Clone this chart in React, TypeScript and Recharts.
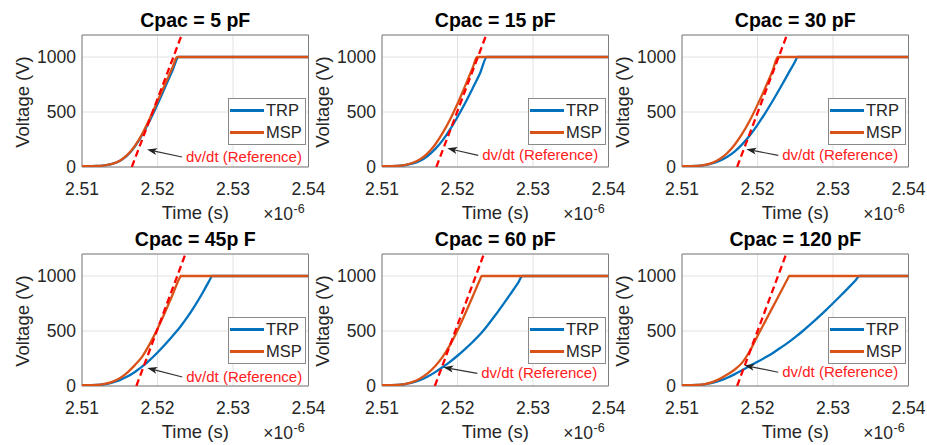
import { LineChart, Line, XAxis, YAxis, CartesianGrid, ReferenceArea, ReferenceLine, Legend } from 'recharts'

const timeTicks = [2.51, 2.52, 2.53, 2.54]
const voltTicks = [0, 500, 1000]
const titles = ['Cpac = 5 pF', 'Cpac = 15 pF', 'Cpac = 30 pF', 'Cpac = 45p F', 'Cpac = 60 pF', 'Cpac = 120 pF']
const seriesOrder = ['TRP', 'MSP']

// [time (x1e-6 s), voltage (V)]
const trp5 = [[2.51, 8], [2.512, 9], [2.513, 15], [2.514, 28], [2.515, 55], [2.516, 105], [2.517, 185], [2.518, 295], [2.519, 425], [2.52, 570], [2.521, 725], [2.522, 880], [2.5228, 1000], [2.54, 1000]]
const msp5 = [[2.51, 8], [2.512, 9], [2.513, 15], [2.514, 29], [2.515, 57], [2.516, 110], [2.517, 192], [2.518, 305], [2.519, 445], [2.52, 598], [2.521, 752], [2.522, 908], [2.5226, 1000], [2.54, 1000]]
const trp15 = [[2.51, 8], [2.512, 9], [2.513, 16], [2.514, 30], [2.515, 55], [2.516, 98], [2.517, 160], [2.518, 240], [2.519, 340], [2.52, 455], [2.521, 580], [2.522, 715], [2.523, 855], [2.5239, 1000], [2.54, 1000]]
const msp15 = [[2.51, 8], [2.512, 10], [2.513, 18], [2.514, 36], [2.515, 68], [2.516, 122], [2.517, 200], [2.518, 305], [2.519, 430], [2.52, 575], [2.521, 735], [2.522, 900], [2.5226, 1000], [2.54, 1000]]
const trp30 = [[2.51, 8], [2.512, 9], [2.513, 16], [2.514, 32], [2.515, 57], [2.516, 93], [2.517, 143], [2.518, 208], [2.519, 288], [2.52, 383], [2.521, 488], [2.522, 600], [2.523, 718], [2.524, 840], [2.525, 962], [2.5253, 1000], [2.54, 1000]]
const msp30 = [[2.51, 8], [2.512, 10], [2.513, 19], [2.514, 38], [2.515, 72], [2.516, 127], [2.517, 205], [2.518, 305], [2.519, 425], [2.52, 565], [2.521, 715], [2.522, 875], [2.5227, 1000], [2.54, 1000]]
const trp45 = [[2.51, 8], [2.512, 9], [2.513, 16], [2.514, 31], [2.515, 54], [2.516, 86], [2.517, 128], [2.518, 178], [2.519, 238], [2.52, 305], [2.521, 378], [2.522, 455], [2.523, 537], [2.524, 630], [2.525, 735], [2.526, 850], [2.527, 975], [2.5272, 1000], [2.54, 1000]]
const msp45 = [[2.51, 8], [2.512, 10], [2.513, 19], [2.514, 38], [2.515, 70], [2.516, 122], [2.517, 190], [2.518, 270], [2.519, 385], [2.52, 520], [2.521, 670], [2.522, 830], [2.523, 990], [2.5231, 1000], [2.54, 1000]]
const trp60 = [[2.51, 8], [2.512, 9], [2.513, 16], [2.514, 30], [2.515, 52], [2.516, 84], [2.517, 124], [2.518, 170], [2.519, 220], [2.52, 275], [2.521, 335], [2.522, 400], [2.523, 470], [2.524, 553], [2.525, 643], [2.526, 738], [2.527, 835], [2.528, 935], [2.5286, 1000], [2.54, 1000]]
const msp60 = [[2.51, 8], [2.512, 10], [2.513, 18], [2.514, 36], [2.515, 66], [2.516, 112], [2.517, 177], [2.518, 262], [2.519, 372], [2.52, 505], [2.521, 655], [2.522, 812], [2.523, 970], [2.5232, 1000], [2.54, 1000]]
const trp120 = [[2.51, 8], [2.512, 9], [2.513, 15], [2.514, 28], [2.515, 48], [2.516, 75], [2.517, 108], [2.518, 145], [2.519, 183], [2.52, 220], [2.521, 258], [2.522, 298], [2.523, 345], [2.524, 392], [2.525, 444], [2.526, 500], [2.527, 560], [2.528, 622], [2.529, 686], [2.53, 752], [2.531, 820], [2.532, 890], [2.533, 962], [2.5335, 1000], [2.54, 1000]]
const msp120 = [[2.51, 8], [2.512, 10], [2.513, 18], [2.514, 36], [2.515, 65], [2.516, 105], [2.517, 150], [2.518, 215], [2.519, 320], [2.52, 455], [2.521, 585], [2.522, 715], [2.523, 845], [2.524, 975], [2.5242, 1000], [2.54, 1000]]

// dv/dt reference line: start time at 0 V and time at 1200 V
const refStart = [2.5166, 2.5172, 2.5173, 2.5172, 2.517, 2.5173]
const refEnd = [2.5232, 2.5238, 2.5239, 2.5237, 2.5235, 2.5238]

// annotation arrow: tail (at text) and tip
const arrowTail = [[2.52325, 91], [2.52275, 106], [2.52275, 106], [2.52328, 82], [2.52262, 115], [2.52275, 125]]
const arrowTip = [[2.51861, 158], [2.51865, 170], [2.51852, 161], [2.51865, 164], [2.51812, 170], [2.51825, 188]]

const trpSeries = [trp5, trp15, trp30, trp45, trp60, trp120]
const mspSeries = [msp5, msp15, msp30, msp45, msp60, msp120]

const plotLefts = [81.7, 381.7, 681.7]
const plotTops = [34.7, 253.8]

const PLOT_W = 226.5
const PLOT_H = 132
const BOX_W = 332
const BOX_H = 228
const OFF_X = 82
const OFF_Y = 35

const toPoints = (arr: number[][]) => arr.map(([t, v]) => ({ t, v }))

const ArrowShape = (props: any) => {
  const { x1, y1, x2, y2 } = props
  if (x1 == null || x2 == null) return null
  const ang = Math.atan2(y2 - y1, x2 - x1)
  const len = 10
  const hw = 3.5
  const bx = x2 - len * Math.cos(ang)
  const by = y2 - len * Math.sin(ang)
  const nx = -Math.sin(ang)
  const ny = Math.cos(ang)
  const nbx = x2 - 0.75 * len * Math.cos(ang)
  const nby = y2 - 0.75 * len * Math.sin(ang)
  return (
    <g>
      <line x1={x1} y1={y1} x2={nbx} y2={nby} stroke="#333" strokeWidth={1.2} />
      <polygon
        points={`${x2},${y2} ${bx + hw * nx},${by + hw * ny} ${nbx},${nby} ${bx - hw * nx},${by - hw * ny}`}
        fill="#222"
      />
      <text x={x1 + 4} y={y1 + 5} fill="#ff2020" fontSize={15}>
        dv/dt (Reference)
      </text>
    </g>
  )
}

const LegendBox = (props: any) => {
  const items = (props.payload || [])
    .filter((e: any) => seriesOrder.includes(e.value))
    .sort((a: any, b: any) => seriesOrder.indexOf(a.value) - seriesOrder.indexOf(b.value))
  return (
    <div
      style={{
        width: 78,
        height: 47,
        boxSizing: 'border-box',
        border: '1px solid #8a8a8a',
        background: '#fff',
        position: 'relative',
      }}
    >
      {items.map((e: any, i: number) => (
        <div
          key={e.value}
          style={{ position: 'absolute', left: 1, top: 1 + i * 22, height: 20, display: 'flex', alignItems: 'center' }}
        >
          <span style={{ display: 'inline-block', width: 34, height: 2.5, background: e.color }} />
          <span style={{ marginLeft: 2, fontSize: 16.5, color: '#262626', lineHeight: '20px' }}>{e.value}</span>
        </div>
      ))}
    </div>
  )
}

function Panel({ i }: { i: number }) {
  const plotLeft = plotLefts[i % 3]
  const plotTop = plotTops[Math.floor(i / 3)]
  const ref = [
    { t: refStart[i], v: 0 },
    { t: refEnd[i], v: 1200 },
  ]
  const cx = OFF_X + PLOT_W / 2
  return (
    <div style={{ position: 'absolute', left: plotLeft - OFF_X, top: plotTop - OFF_Y, width: BOX_W, height: BOX_H }}>
      <LineChart
        width={BOX_W}
        height={BOX_H}
        margin={{ top: OFF_Y, right: BOX_W - OFF_X - PLOT_W, bottom: BOX_H - OFF_Y - PLOT_H - 30, left: 32 }}
      >
        <CartesianGrid stroke="#e2e2e2" strokeWidth={1} />
        <XAxis
          type="number"
          dataKey="t"
          domain={[2.51, 2.54]}
          ticks={timeTicks}
          allowDataOverflow
          height={30}
          axisLine={false}
          tickLine={false}
          tickSize={0}
          tickMargin={16}
          tick={{ fontSize: 17.5, fill: '#262626' }}
          tickFormatter={(v: number) => v.toFixed(2)}
        />
        <YAxis
          type="number"
          dataKey="v"
          domain={[0, 1200]}
          ticks={voltTicks}
          allowDataOverflow
          width={50}
          axisLine={false}
          tickLine={false}
          tickSize={0}
          tickMargin={6}
          tick={{ fontSize: 17.5, fill: '#262626' }}
        />
        <ReferenceArea x1={2.51} x2={2.54} y1={0} y2={1200} fill="none" stroke="#7d7d7d" strokeWidth={1} />
        <Line
          data={toPoints(trpSeries[i])}
          dataKey="v"
          name="TRP"
          type="monotone"
          stroke="#0072BD"
          strokeWidth={2.3}
          dot={false}
          isAnimationActive={false}
        />
        <Line
          data={toPoints(mspSeries[i])}
          dataKey="v"
          name="MSP"
          type="monotone"
          stroke="#D95319"
          strokeWidth={2.3}
          dot={false}
          isAnimationActive={false}
        />
        <Line
          data={ref}
          dataKey="v"
          name="dv/dt"
          type="linear"
          stroke="#ff0000"
          strokeWidth={2.3}
          strokeDasharray="7 4"
          dot={false}
          legendType="none"
          isAnimationActive={false}
        />
        <ReferenceLine
          segment={[
            { x: arrowTail[i][0], y: arrowTail[i][1] },
            { x: arrowTip[i][0], y: arrowTip[i][1] },
          ]}
          shape={ArrowShape}
        />
        <Legend
          layout="vertical"
          align="center"
          verticalAlign="middle"
          wrapperStyle={{ left: OFF_X + 146.3, top: OFF_Y + 63.6, width: 78, height: 47 }}
          content={LegendBox}
        />
      </LineChart>
      <svg
        width={BOX_W}
        height={BOX_H}
        style={{ position: 'absolute', left: 0, top: 0, pointerEvents: 'none', overflow: 'visible' }}
      >
        <text x={cx} y={OFF_Y - 8} textAnchor="middle" fontSize={19.5} fontWeight="bold" fill="#000">
          {titles[i]}
        </text>
        <text
          x={OFF_X - 53}
          y={OFF_Y + 67}
          textAnchor="middle"
          fontSize={18.5}
          fill="#262626"
          transform={`rotate(-90 ${OFF_X - 53} ${OFF_Y + 67})`}
        >
          Voltage (V)
        </text>
        <text x={cx} y={OFF_Y + 184} textAnchor="middle" fontSize={18.5} fill="#262626">
          Time (s)
        </text>
        <text x={OFF_X + 181.3} y={OFF_Y + 185} fontSize={17.5} fill="#262626">
          ×10
        </text>
        <text x={OFF_X + 211.5} y={OFF_Y + 177.5} fontSize={12.5} fill="#262626">
          -6
        </text>
      </svg>
    </div>
  )
}

export default function App() {
  return (
    <div
      style={{
        position: 'absolute',
        left: 0,
        top: 0,
        width: 927,
        height: 445,
        background: '#fff',
        fontFamily: '"Liberation Sans", Arial, Helvetica, sans-serif',
        overflow: 'hidden',
      }}
    >
      {titles.map((_, i) => (
        <Panel key={i} i={i} />
      ))}
    </div>
  )
}
